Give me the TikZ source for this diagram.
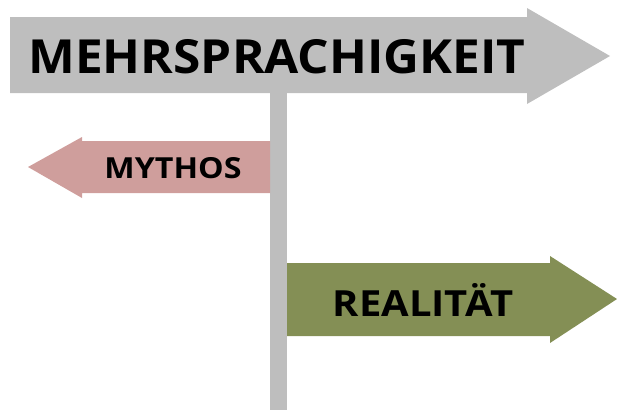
\documentclass[tikz,border=0pt]{standalone}
\usepackage{fontspec}
\setmainfont{Open Sans}
\definecolor{signgray}{HTML}{BEBEBE}
\definecolor{mythpink}{HTML}{CF9E9C}
\definecolor{realgreen}{HTML}{848F55}
\begin{document}
\begin{tikzpicture}[x=1pt,y=-1pt,
  label/.style={inner sep=0pt,text=black,anchor=center}]
\useasboundingbox (0,0) rectangle (617,410);
% post
\fill[signgray] (270,90) rectangle (287,410);
% main sign
\fill[signgray] (10,17) -- (527,17) -- (527,8) -- (610,56) -- (527,104) -- (527,93) -- (10,93) -- cycle;
% left sign
\fill[mythpink] (270,141) -- (82,141) -- (82,137) -- (28,167) -- (82,198) -- (82,193) -- (270,193) -- cycle;
% right sign
\fill[realgreen] (287,263) -- (550,263) -- (550,256) -- (617,299) -- (550,343) -- (550,336) -- (287,336) -- cycle;
\node[label,font=\fontsize{47}{50}\selectfont\bfseries] (main) at (277,57) {\scalebox{1.055}[1]{MEHRSPRACHIGKEIT}};
\node[label,font=\fontsize{29}{32}\selectfont\bfseries] (myth) at (173,168) {\scalebox{1.11}[1]{MYTHOS}};
\node[label,font=\fontsize{36}{40}\selectfont\bfseries] (real) at (423,300) {\scalebox{1.11}[1]{REALITÄT}};
\end{tikzpicture}
\end{document}
